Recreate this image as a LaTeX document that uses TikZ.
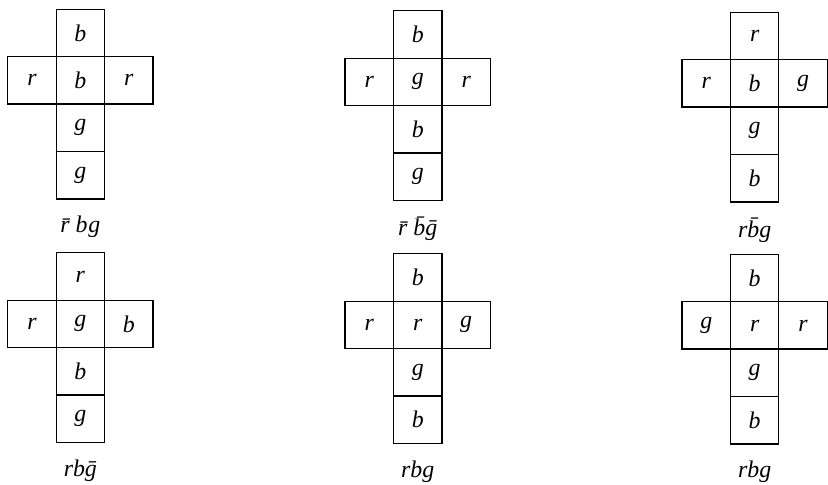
\documentclass[tikz,border=0pt]{standalone}
\usepackage{fontspec}
\setmainfont{Liberation Serif}
\usetikzlibrary{positioning}
\tikzset{netcell/.style={draw,line width=0.9pt,minimum width=1.2125cm,minimum height=1.1875cm,inner sep=0pt,outer sep=0pt,font=\fontsize{17}{20}\selectfont\itshape},netcap/.style={font=\fontsize{17}{20}\selectfont\itshape,inner sep=0pt}}

\begin{document}
\begin{tikzpicture}[x=0.025cm,y=-0.025cm]
\useasboundingbox (0,0) rectangle (829.5,484.9);
% one cube net per entry: name/x/y/top/left/middle/right/below/bottom/caption
\foreach \n/\x/\y/\tp/\lf/\md/\rt/\dn/\bt/\cp in {
  one/80.5/80.5/b/r/b/r/g/g/{\=r b\kern0.5pt g},
  two/418.5/82/b/r/g/r/b/g/{\=r \=b\=g},
  three/756/83.5/r/r/b/g/g/b/{r\=bg},
  four/80.5/324.5/r/r/g/b/b/g/{rb\=g},
  five/418.5/325.5/b/r/r/g/g/b/{rbg},
  six/756/326/b/g/r/r/g/b/{rbg}}
{
\node[netcell] (\n mid) at (\x,\y) {\md};
\node[netcell,above=0pt of \n mid] (\n top) {\tp};
\node[netcell,left=0pt of \n mid] (\n left) {\lf};
\node[netcell,right=0pt of \n mid] (\n right) {\rt};
\node[netcell,below=0pt of \n mid] (\n down) {\dn};
\node[netcell,below=0pt of \n down] (\n bot) {\bt};
\node[netcap] (\n cap) at (\x,\y+147) {\cp};
}
\end{tikzpicture}
\end{document}
